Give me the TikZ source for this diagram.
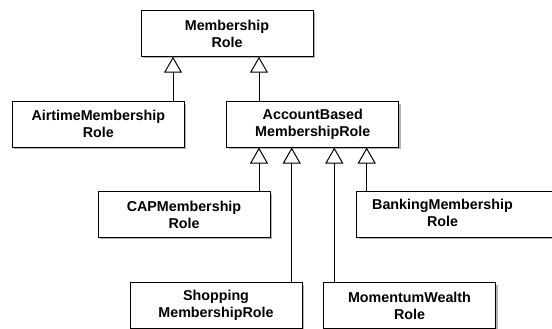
\documentclass[tikz,border=0pt]{standalone}
\usepackage{fontspec}
\setmainfont{Liberation Sans}
\usetikzlibrary{arrows.meta,shadows}
\begin{document}
\begin{tikzpicture}[x=1pt,y=-1pt,
  cls/.style={draw=black, fill=white, line width=1pt, minimum width=172pt, minimum height=45.5pt,
    inner sep=0pt, align=center, font=\fontsize{14.3}{17}\selectfont\bfseries,
    drop shadow={shadow xshift=2pt, shadow yshift=-2pt, opacity=0.3, fill=black}},
  inh/.style={draw=black, line width=1pt, -{Triangle[open, length=16pt, width=18pt, fill=white]}}]
\useasboundingbox (0,0) rectangle (552,329);
\node[cls] (mem) at (227,33.5) {Membership\\Role};
\node[cls] (air) at (98.3,124.3) {AirtimeMembership\\Role};
\node[cls] (acc) at (312.8,124.3) {AccountBased\\MembershipRole};
\node[cls] (cap) at (184,214.5) {CAPMembership\\Role};
\node[cls, anchor=west, minimum width=214pt] (bank) at (356,214.5)
  {\makebox[172pt]{\begin{tabular}{@{}c@{}}BankingMembership\\Role\end{tabular}}\hspace{42pt}};
\node[cls] (shop) at (216,305.5) {Shopping\\MembershipRole};
\node[cls] (mom) at (409.5,305.5) {MomentumWealth\\Role};
\coordinate (xa) at (173,0);
\coordinate (xb) at (259,0);
\coordinate (xc) at (291.7,0);
\coordinate (xd) at (334.3,0);
\coordinate (xe) at (366.7,0);
\draw[inh] (air.north -| xa) -- (mem.south -| xa);
\draw[inh] (acc.north -| xb) -- (mem.south -| xb);
\draw[inh] (cap.north -| xb) -- (acc.south -| xb);
\draw[inh] (shop.north -| xc) -- (acc.south -| xc);
\draw[inh] (mom.north -| xd) -- (acc.south -| xd);
\draw[inh] (bank.north -| xe) -- (acc.south -| xe);
\end{tikzpicture}
\end{document}
